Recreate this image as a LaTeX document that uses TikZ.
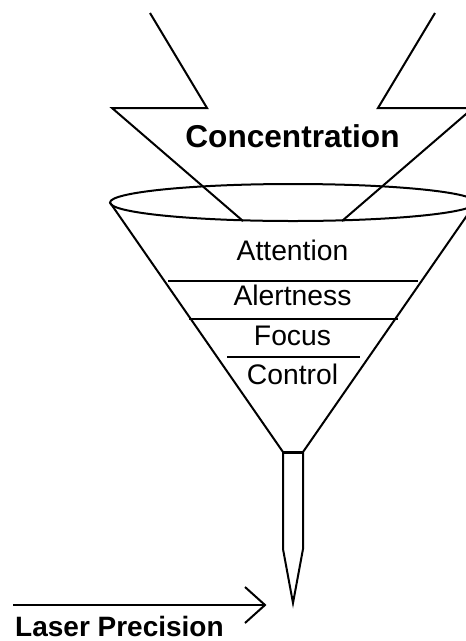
\documentclass[tikz,border=0pt]{standalone}
\usepackage{fontspec}
\setmainfont{Liberation Sans}
\usetikzlibrary{arrows.meta}
\begin{document}
\begin{tikzpicture}[x=1pt,y=-1pt,
  ink/.style={line width=2pt,line join=miter,black},
  layer/.style={line width=2.6pt,black},
  lbl/.style={anchor=base,inner sep=0pt,font=\fontsize{28.3}{30}\selectfont},
  bigl/.style={anchor=base,inner sep=0pt,font=\fontsize{31.6}{34}\selectfont\bfseries},
  smallbold/.style={anchor=base west,inner sep=0pt,font=\fontsize{28}{30}\selectfont\bfseries}]
\useasboundingbox (0,0) rectangle (466,641);
\clip (0,0) rectangle (466,641);
% big open arrow (Concentration)
\draw[ink] (150,13) -- (207,108) -- (112,108) -- (243,221);
\draw[ink] (435,13) -- (378,108) -- (473,108) -- (342,221);
\node[bigl] (conc) at (292.5,147) {Concentration};
% funnel rim
\draw[ink] (293,202.5) ellipse [x radius=183, y radius=18.5];
% funnel cone and tube
\coordinate (rimL) at (110,202.5);
\coordinate (rimR) at (476,202.5);
\coordinate (neckL) at (283,452);
\coordinate (neckR) at (303,452);
\coordinate (tubeL) at (283,549);
\coordinate (tubeR) at (303,549);
\coordinate (tip) at (293,603);
\draw[ink] (rimL) -- (neckL) -- (tubeL) -- (tip) -- (tubeR) -- (neckR) -- (rimR);
\draw[line width=3pt] (neckL) -- (neckR);
% layers
\draw[layer] (168,281) -- (418,281);
\draw[layer] (189,319) -- (398,319);
\draw[layer] (227,357) -- (360,357);
\node[lbl] (att) at (292.5,260) {Attention};
\node[lbl] (ale) at (292.5,305) {Alertness};
\node[lbl] (foc) at (292.5,345) {Focus};
\node[lbl] (con) at (292.5,384) {Control};
% laser arrow
\coordinate (lasS) at (13,605);
\coordinate (lasE) at (265,605);
\coordinate (barbU) at (245,587);
\coordinate (barbD) at (245,623);
\draw[ink] (lasS) -- (lasE);
\draw[ink] (barbU) -- (lasE) -- (barbD);
\node[smallbold] (laser) at (15,636) {Laser Precision};
\end{tikzpicture}
\end{document}
